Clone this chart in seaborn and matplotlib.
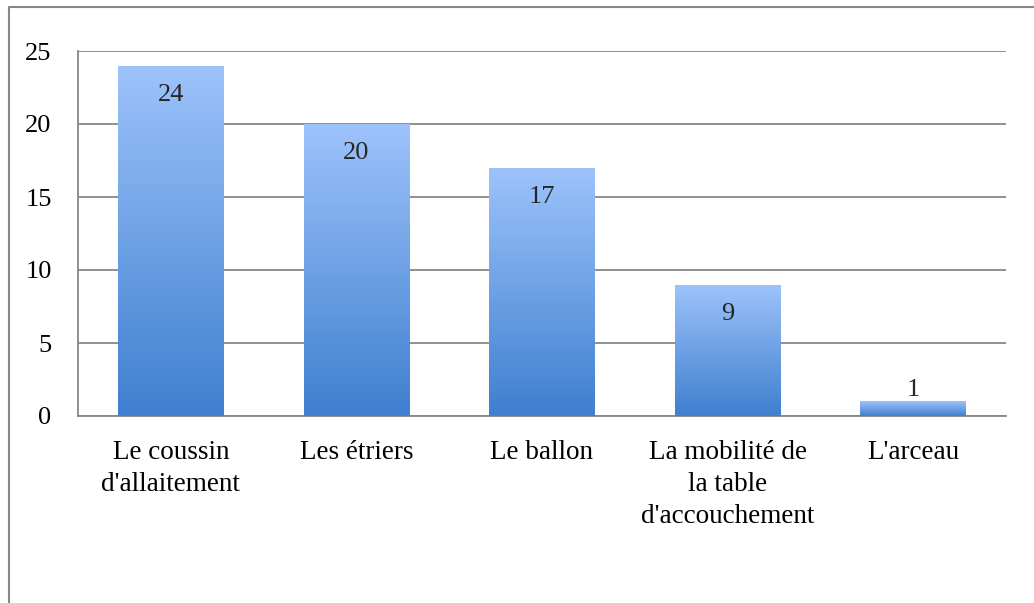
import numpy as np
import pandas as pd
import matplotlib
matplotlib.use("Agg")
import matplotlib.pyplot as plt
import seaborn as sns
from matplotlib.colors import LinearSegmentedColormap
from matplotlib.lines import Line2D

categories = ["Le coussin\nd'allaitement", "Les étriers", "Le ballon",
              "La mobilité de\nla table\nd'accouchement", "L'arceau"]
values = [24, 20, 17, 9, 1]
y_ticks = [0, 5, 10, 15, 20, 25]

df = pd.DataFrame({"item": categories, "count": values})

sns.set_theme(style="white")
plt.rcParams['font.family'] = ['Liberation Serif', 'DejaVu Serif']

fig = plt.figure(figsize=(10.34, 6.03), dpi=100)
ax = fig.add_axes([78 / 1034, 187 / 603, 928 / 1034, 365 / 603])

sns.barplot(data=df, x="item", y="count", color="#6a9be0", width=0.57,
            saturation=1, ax=ax, zorder=3)

# vertical gradient on each bar
grad = LinearSegmentedColormap.from_list("g", ["#3f7fcf", "#9dc3fb"])
gimg = np.linspace(0, 1, 256).reshape(-1, 1)
for p in ax.patches:
    x0, y0 = p.get_x(), p.get_y()
    w, h = p.get_width(), p.get_height()
    p.set_facecolor("none")
    p.set_edgecolor("none")
    im = ax.imshow(gimg, cmap=grad, origin="lower", aspect="auto",
                   extent=[x0, x0 + w, y0, y0 + h], zorder=3)
    im.set_clip_path(p)

ax.set_xlim(-0.5, 4.5)
ax.set_ylim(0, 25)
ax.set_yticks(y_ticks)
ax.set_yticklabels([str(t) for t in y_ticks])
ax.grid(axis="y", color="#878787", linewidth=1.3, zorder=0)
ax.set_axisbelow(True)
ax.set_xlabel("")
ax.set_ylabel("")
for s in ["top", "right"]:
    ax.spines[s].set_visible(False)
for s in ["left", "bottom"]:
    ax.spines[s].set_color("#878787")
    ax.spines[s].set_linewidth(1.3)
ax.tick_params(axis="y", labelsize=19, pad=19, length=0, colors="black")
ax.tick_params(axis="x", labelsize=19.5, pad=17, length=0, colors="black")
for lbl in ax.get_xticklabels():
    lbl.set_linespacing(1.38)

for i, v in enumerate(values):
    if v >= 3:
        ax.text(i, v - 2.0, str(v), ha="center", va="center", fontsize=19, zorder=5)
    else:
        ax.text(i, v + 0.75, str(v), ha="center", va="center", fontsize=19, zorder=5)

# outer frame
fig.add_artist(Line2D([9 / 1034, 9 / 1034, 1.0], [0.0, 1 - 7 / 603, 1 - 7 / 603],
                      transform=fig.transFigure, color="#878787", linewidth=1.5))

fig.savefig("out.png", dpi=100)
